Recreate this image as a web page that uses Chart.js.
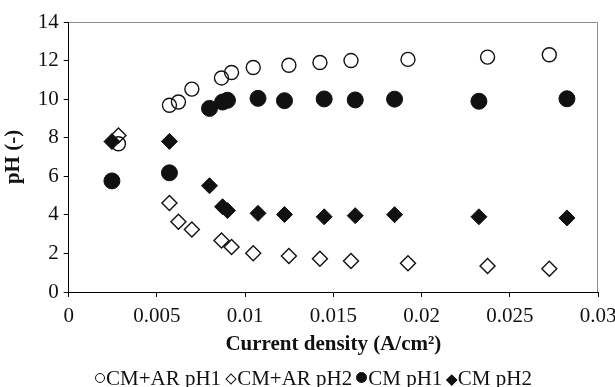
<!DOCTYPE html>
<html>
<head>
<meta charset="utf-8">
<script src="https://cdn.jsdelivr.net/npm/chart.js@4"></script>
<style>
  html, body { margin: 0; padding: 0; background: #fff; }
  #wrap { position: relative; width: 615px; height: 387px; }
  #legend {
    position: absolute; left: 95px; top: 366px;
    font: 21px/24px "Liberation Serif", "Times New Roman", serif;
    color: #111; white-space: nowrap;
  }
  #legend .mk { display: inline-block; box-sizing: border-box; vertical-align: 2px; }
  #legend .gap { display: inline-block; width: 4px; }
</style>
</head>
<body>
<div id="wrap">
  <canvas id="phChart"></canvas>
  <div id="legend"></div>
</div>
<script>
// Current density (A/cm2) for each run
const cdAR = [0.00282, 0.00571, 0.00622, 0.00698, 0.00866, 0.00923, 0.01046, 0.01248, 0.01424, 0.0160, 0.01923, 0.02374, 0.02724];
const cdCM = [0.00245, 0.00571, 0.00798, 0.00872, 0.00900, 0.01073, 0.01223, 0.01448, 0.01624, 0.01847, 0.02325, 0.02824];

// pH values
const arPH1 = [7.69, 9.68, 9.85, 10.52, 11.10, 11.38, 11.64, 11.76, 11.90, 12.00, 12.06, 12.18, 12.30];
const arPH2 = [8.12, 4.62, 3.64, 3.24, 2.67, 2.33, 2.01, 1.87, 1.73, 1.61, 1.49, 1.35, 1.21];
const cmPH1 = [5.76, 6.18, 9.52, 9.85, 9.94, 10.04, 9.92, 10.01, 9.96, 10.00, 9.89, 10.02];
const cmPH2 = [7.80, 7.81, 5.51, 4.42, 4.22, 4.08, 4.02, 3.90, 3.96, 4.01, 3.90, 3.84];

const seriesNames = ['CM+AR pH1', 'CM+AR pH2', 'CM pH1', 'CM pH2'];
const xTicks = [0, 0.005, 0.01, 0.015, 0.02, 0.025, 0.03];
const yTicks = [0, 2, 4, 6, 8, 10, 12, 14];

function pts(xs, ys) {
    return xs.map((x, i) => ({ x: x, y: ys[i] }));
}

const serif = 'Liberation Serif, Times New Roman, serif';
const ink = '#111';

// grey frame on top/right like the excel plot area
const plotFrame = {
    id: 'plotFrame',
    beforeDatasetsDraw(chart) {
        const a = chart.chartArea;
        const c = chart.ctx;
        c.save();
        c.strokeStyle = '#8c8c8c';
        c.lineWidth = 1;
        c.beginPath();
        c.moveTo(a.left, a.top + 0.5);
        c.lineTo(a.right - 0.5, a.top + 0.5);
        c.lineTo(a.right - 0.5, a.bottom);
        c.stroke();
        c.restore();
    }
};

// legend as html text, markers glued to the labels like the original
const htmlLegend = {
    id: 'htmlLegend',
    afterUpdate(chart) {
        const box = document.getElementById('legend');
        box.innerHTML = '';
        chart.data.datasets.forEach((ds, i) => {
            if (i > 0) {
                const g = document.createElement('span');
                g.className = 'gap';
                box.appendChild(g);
            }
            const mk = document.createElement('span');
            mk.className = 'mk';
            const filled = ds.backgroundColor !== 'rgba(0,0,0,0)';
            if (ds.pointStyle === 'circle') {
                const d = filled ? 11 : 10;
                mk.style.width = d + 'px';
                mk.style.height = d + 'px';
                mk.style.borderRadius = '50%';
                mk.style.marginRight = '1px';
            } else {
                const s = filled ? 7.5 : 8;
                mk.style.width = s + 'px';
                mk.style.height = s + 'px';
                mk.style.transform = 'rotate(45deg)';
                mk.style.margin = '0 2.5px 0 1.5px';
            }
            mk.style.border = '1.3px solid ' + ink;
            mk.style.background = filled ? ink : 'transparent';
            box.appendChild(mk);
            box.appendChild(document.createTextNode(ds.label));
        });
    }
};

const ctx = document.getElementById('phChart').getContext('2d');

const data = {
    datasets: [
        {
            label: seriesNames[0],
            data: pts(cdAR, arPH1),
            pointStyle: 'circle',
            pointRadius: 7,
            borderColor: ink,
            backgroundColor: 'rgba(0,0,0,0)',
            borderWidth: 1.4,
        },
        {
            label: seriesNames[1],
            data: pts(cdAR, arPH2),
            pointStyle: 'rectRot',
            pointRadius: 7.5,
            borderColor: ink,
            backgroundColor: 'rgba(0,0,0,0)',
            borderWidth: 1.4,
        },
        {
            label: seriesNames[2],
            data: pts(cdCM, cmPH1),
            pointStyle: 'circle',
            pointRadius: 8,
            borderColor: ink,
            backgroundColor: ink,
            borderWidth: 1,
        },
        {
            label: seriesNames[3],
            data: pts(cdCM, cmPH2),
            pointStyle: 'rectRot',
            pointRadius: 8,
            borderColor: ink,
            backgroundColor: ink,
            borderWidth: 1,
        },
    ],
};

const config = {
    type: 'scatter',
    data: data,
    options: {
        responsive: true,
        maintainAspectRatio: false,
        animation: false,
        layout: {
            padding: { left: 0, right: 0, top: 22, bottom: 32 },
        },
        plugins: {
            tooltip: { enabled: false },
            legend: { display: false },
        },
        scales: {
            x: {
                type: 'linear',
                min: 0,
                max: 0.03,
                afterBuildTicks: (axis) => { axis.ticks = xTicks.map(v => ({ value: v })); },
                // let the last label hang over the edge like the original
                afterFit: (axis) => { axis.paddingRight = 17; },
                ticks: {
                    color: '#111',
                    padding: 9,
                    maxRotation: 0,
                    font: { family: serif, size: 21, lineHeight: 1 },
                    callback: (v) => String(v),
                },
                grid: {
                    drawOnChartArea: false,
                    drawTicks: true,
                    tickLength: 5,
                    color: '#000',
                },
                border: { color: '#000', width: 1 },
                title: {
                    display: true,
                    text: 'Current density (A/cm²)',
                    color: '#111',
                    padding: { top: -2, bottom: 0 },
                    font: { family: serif, size: 21, weight: 'bold', lineHeight: 1 },
                },
            },
            y: {
                min: 0,
                max: 14,
                afterBuildTicks: (axis) => { axis.ticks = yTicks.map(v => ({ value: v })); },
                ticks: {
                    color: '#111',
                    padding: 5,
                    font: { family: serif, size: 21 },
                },
                grid: {
                    drawOnChartArea: false,
                    drawTicks: true,
                    tickLength: 5,
                    color: '#000',
                },
                border: { color: '#000', width: 1 },
                title: {
                    display: true,
                    text: 'pH (-)',
                    color: '#111',
                    padding: { top: 1, bottom: 6.5 },
                    font: { family: serif, size: 21, weight: 'bold' },
                },
            },
        },
    },
    plugins: [plotFrame, htmlLegend],
};

const phChart = new Chart(ctx, config);
</script>
</body>
</html>
